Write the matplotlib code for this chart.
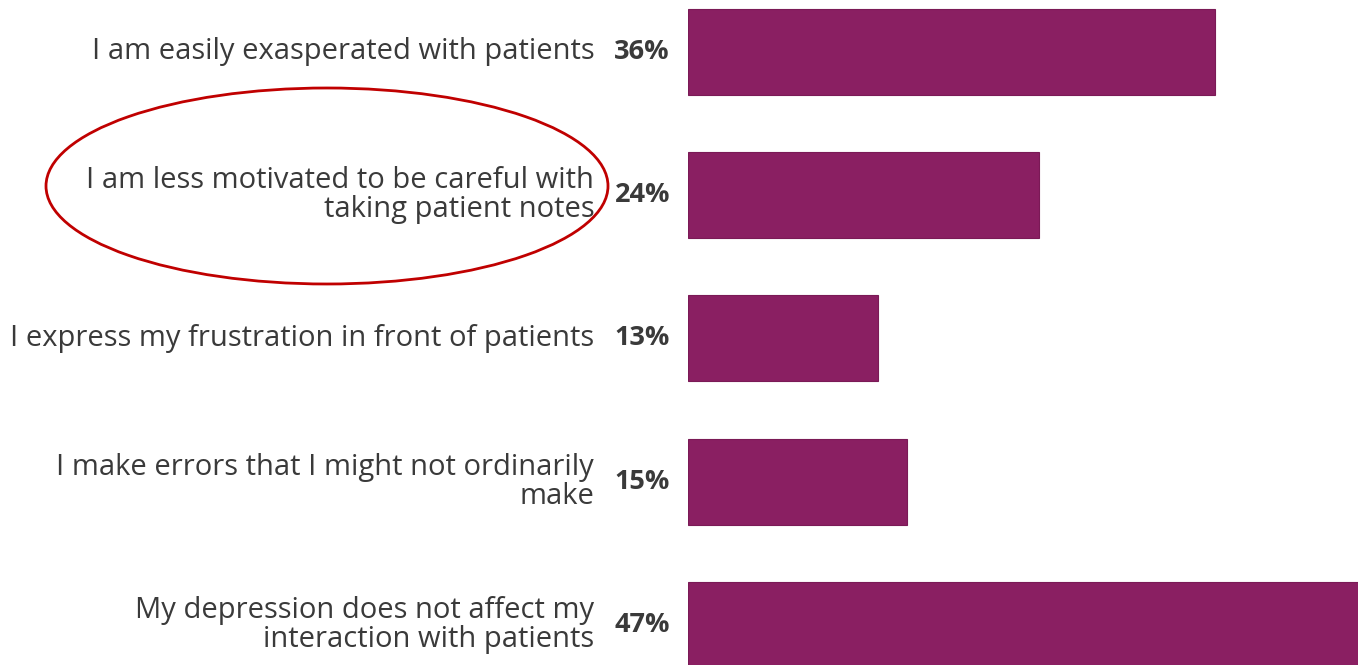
import matplotlib.pyplot as plt
from matplotlib.patches import Ellipse

plt.rcParams['font.family'] = ['Open Sans', 'DejaVu Sans']

# Survey answers and share of respondents
labels = [
    "I am easily exasperated with patients",
    "I am less motivated to be careful with\ntaking patient notes",
    "I express my frustration in front of patients",
    "I make errors that I might not ordinarily\nmake",
    "My depression does not affect my\ninteraction with patients",
]
values = [36, 24, 13, 15, 47]
value_labels = ["36%", "24%", "13%", "15%", "47%"]

bar_color = "#8A1F62"
text_color = "#3a3a3a"

fig = plt.figure(figsize=(13.58, 6.65), dpi=100)
ax = fig.add_axes([688 / 1358, 0, 1 - 688 / 1358, 1])

y = list(range(len(values)))
ax.barh(y, values, height=0.6, color=bar_color, edgecolor="#7a1a56", linewidth=0.8)

ax.set_xlim(0, 45.8)
ax.set_ylim(4.28, -0.363)
ax.axis('off')

for yi, lab, vl in zip(y, labels, value_labels):
    ax.annotate(lab, xy=(0, yi), xytext=(-67.5, 0), textcoords='offset points',
                ha='right', va='center', fontsize=21, color=text_color,
                linespacing=1.0, annotation_clip=False)
    ax.annotate(vl, xy=(0, yi), xytext=(-13, 0), textcoords='offset points',
                ha='right', va='center', fontsize=19.5, fontweight='bold',
                color=text_color, annotation_clip=False)

# Highlight around the second answer
fig.patches.append(Ellipse((327 / 1358, 1 - 186 / 665), 562 / 1358, 196 / 665,
                           transform=fig.transFigure, fill=False,
                           edgecolor="#C00000", linewidth=2))

fig.savefig("out.png", dpi=100, facecolor="white")
